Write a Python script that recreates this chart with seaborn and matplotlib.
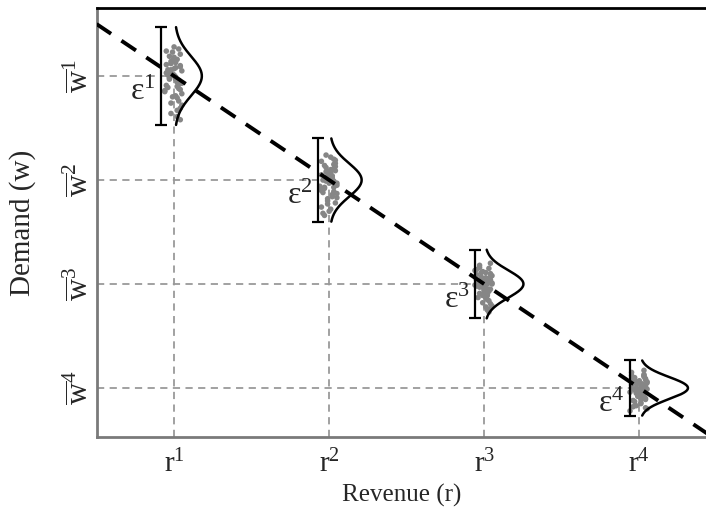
import matplotlib
matplotlib.use("Agg")
import matplotlib.pyplot as plt
import numpy as np
import pandas as pd
import seaborn as sns

# revenue levels (x) and mean demand levels (y)
revenue = [1, 2, 3, 4]
demand = [4, 3, 2, 1]
rev_labels = [r"$\mathrm{r}^1$", r"$\mathrm{r}^2$", r"$\mathrm{r}^3$", r"$\mathrm{r}^4$"]
dem_labels = [r"$\overline{\mathrm{w}}^1$", r"$\overline{\mathrm{w}}^2$",
              r"$\overline{\mathrm{w}}^3$", r"$\overline{\mathrm{w}}^4$"]
eps_labels = [r"$\mathrm{ε}^1$", r"$\mathrm{ε}^2$", r"$\mathrm{ε}^3$", r"$\mathrm{ε}^4$"]

# half width of the error interval at each level
err_half = [0.47, 0.40, 0.33, 0.265]
err_x = [0.916, 1.929, 2.942, 3.942]

# trend line
trend_x = [0.5, 4.45]
trend_y = [4.5, 0.55]

# observed points
x1 = [0.98, 1.03, 0.95, 1.01, 1.04, 0.97, 1.00, 1.05, 0.99, 1.02, 0.96, 1.03, 0.94, 1.01, 1.04, 0.98, 1.00, 1.05, 0.97, 1.02, 0.95, 1.01, 1.03, 0.99, 1.04, 0.96, 1.02, 0.98, 1.05, 1.00, 0.97, 1.03, 0.95, 1.01, 1.04, 0.99, 1.02, 0.94, 1.03, 1.00, 0.98, 1.05, 0.96, 1.01, 1.02, 0.97, 1.04, 0.99, 1.00, 1.03, 0.95, 1.02, 0.98, 1.04, 1.01]
y1 = [4.12, 3.95, 4.03, 3.81, 4.21, 3.98, 4.07, 3.72, 4.15, 3.90, 4.01, 4.26, 3.86, 3.97, 4.09, 3.64, 4.18, 3.93, 4.04, 3.79, 4.11, 3.99, 3.88, 4.23, 3.58, 4.06, 3.94, 4.14, 3.83, 4.00, 4.19, 3.76, 3.91, 4.08, 3.69, 4.02, 4.16, 3.85, 3.96, 4.28, 3.74, 4.05, 3.89, 4.13, 3.61, 3.97, 4.10, 3.80, 4.01, 3.92, 4.24, 3.67, 4.06, 3.87, 3.99]
x2 = [2.01, 2.04, 1.98, 2.02, 1.95, 2.03, 2.00, 1.99, 2.04, 1.97, 2.02, 2.01, 1.96, 2.05, 1.98, 2.00, 2.03, 1.94, 2.02, 1.99, 2.04, 2.01, 1.95, 2.03, 1.97, 2.00, 2.05, 1.98, 2.02, 1.96, 2.04, 1.99, 2.03, 2.01, 1.95, 2.02, 1.97, 2.05, 2.00, 1.98, 2.04, 2.01, 1.94, 2.03, 1.96, 2.02, 1.99, 2.05, 2.00, 1.97, 2.04, 2.01, 1.95, 2.03, 1.98]
y2 = [3.10, 2.96, 3.03, 2.84, 3.18, 2.99, 3.06, 2.77, 3.13, 2.92, 3.01, 3.22, 2.88, 2.97, 3.08, 2.70, 3.15, 2.94, 3.04, 2.82, 3.09, 3.00, 2.90, 3.20, 2.66, 3.05, 2.95, 3.12, 2.86, 3.00, 3.16, 2.80, 2.93, 3.07, 2.74, 3.02, 3.14, 2.87, 2.97, 3.24, 2.78, 3.04, 2.91, 3.11, 2.68, 2.98, 3.08, 2.83, 3.01, 2.93, 3.19, 2.72, 3.05, 2.89, 2.99]
x3 = [3.05, 2.99, 3.02, 2.96, 3.03, 2.94, 3.01, 3.04, 2.98, 3.00, 3.05, 2.97, 3.02, 2.95, 3.01, 3.03, 2.99, 3.04, 2.96, 3.02, 2.98, 3.05, 3.00, 2.97, 3.03, 2.95, 3.01, 3.04, 2.99, 3.02, 2.94, 3.03, 3.00, 2.98, 3.05, 2.96, 3.01, 3.02, 2.97, 3.04, 2.99, 3.00, 3.03, 2.95, 3.02, 2.98, 3.04, 3.01, 2.98, 3.03, 2.95, 3.01, 3.04, 2.97, 3.00]
y3 = [2.08, 1.97, 2.02, 1.87, 2.15, 1.99, 2.05, 1.81, 2.11, 1.94, 2.01, 2.18, 1.90, 1.98, 2.06, 1.76, 2.12, 1.95, 2.03, 1.85, 2.07, 2.00, 1.92, 2.16, 1.73, 2.04, 1.96, 2.10, 1.89, 2.00, 2.13, 1.84, 1.94, 2.06, 1.79, 2.02, 2.11, 1.89, 1.97, 2.20, 1.82, 2.03, 1.93, 2.09, 1.75, 1.98, 2.07, 1.86, 2.01, 1.95, 2.14, 1.78, 2.04, 1.91, 1.99]
x4 = [4.00, 3.97, 4.04, 4.01, 3.95, 4.03, 3.98, 4.01, 4.04, 3.98, 4.02, 3.95, 4.03, 4.00, 3.99, 4.04, 3.97, 4.02, 4.01, 3.96, 4.05, 3.98, 4.00, 4.03, 3.94, 4.02, 3.99, 4.04, 4.01, 3.95, 4.03, 3.97, 4.00, 4.05, 3.98, 4.02, 3.96, 4.04, 3.99, 4.03, 4.01, 3.95, 4.02, 3.97, 4.05, 4.00, 3.98, 4.04, 4.01, 3.94, 4.03, 3.96, 4.02, 3.99, 4.05]
y4 = [1.07, 0.98, 1.02, 0.89, 1.12, 0.99, 1.04, 0.85, 1.09, 0.95, 1.01, 1.15, 0.92, 0.98, 1.05, 0.81, 1.10, 0.96, 1.03, 0.88, 1.06, 1.00, 0.93, 1.13, 0.78, 1.03, 0.97, 1.08, 0.91, 1.00, 1.11, 0.87, 0.95, 1.05, 0.83, 1.02, 1.09, 0.90, 0.98, 1.17, 0.86, 1.03, 0.94, 1.07, 0.80, 0.98, 1.06, 0.89, 1.01, 0.96, 1.12, 0.82, 1.04, 0.92, 0.99]

pts = pd.DataFrame({"r": x1 + x2 + x3 + x4, "w": y1 + y2 + y3 + y4})

sns.set_theme(style="white")
plt.rcParams["font.family"] = ["Liberation Serif", "DejaVu Serif"]
plt.rcParams["mathtext.fontset"] = "custom"
plt.rcParams["mathtext.rm"] = "Liberation Serif"
plt.rcParams["mathtext.it"] = "Liberation Serif:italic"

fig = plt.figure(figsize=(7.06, 5.11), dpi=100)
ax = fig.add_axes([0.1374, 0.1448, 0.8626, 0.8395])
xmin, xmax = 0.503, 4.43
ymin, ymax = 0.529, 4.654

# guide lines
for r, w in zip(revenue, demand):
    ax.plot([xmin, r], [w, w], ls=(0, (4, 3)), color="#9a9a9a", lw=1.3, zorder=1)
    ax.plot([r, r], [ymin, w], ls=(0, (4, 3)), color="#9a9a9a", lw=1.3, zorder=1)

sns.lineplot(x=trend_x, y=trend_y, ax=ax, color="black", lw=2.8,
             linestyle=(0, (4.5, 3.2)), zorder=4)

sns.scatterplot(data=pts, x="r", y="w", ax=ax, color="#868686", s=16,
                edgecolor="none", zorder=2)

dens_scale = 0.082
for r, w, e, ex, lab in zip(revenue, demand, err_half, err_x, eps_labels):
    ax.errorbar([ex], [w], yerr=[e], color="black", lw=1.6, capsize=4.5,
                capthick=1.6, zorder=3)
    sd = e / 2.5
    yy = np.linspace(w - e, w + e, 200)
    pdf = np.exp(-0.5 * ((yy - w) / sd) ** 2) / (sd * np.sqrt(2 * np.pi))
    ax.plot(r + 0.005 + dens_scale * pdf, yy, color="black", lw=1.8, zorder=3)
    ax.text(ex - 0.035, w - 0.16, lab, ha="right", va="center", fontsize=23)

ax.set_xlim(xmin, xmax)
ax.set_ylim(ymin, ymax)
ax.set_xticks(revenue, rev_labels, fontsize=21)
ax.set_yticks(demand, dem_labels, fontsize=22, rotation=90, va="center")
ax.tick_params(axis="both", length=0)
ax.tick_params(axis="x", pad=9)
ax.tick_params(axis="y", pad=2)
ax.set_xlabel("Revenue (r)", fontsize=18)
ax.set_ylabel("Demand (w)", fontsize=21)
ax.xaxis.set_label_coords(0.5, -0.11)
ax.yaxis.set_label_coords(-0.1, 0.5)

ax.spines["right"].set_visible(False)
for s in ["left", "bottom"]:
    ax.spines[s].set_color("#7a7a7a")
    ax.spines[s].set_linewidth(2)
ax.spines["top"].set_color("black")
ax.spines["top"].set_linewidth(2)

fig.savefig("out.png", dpi=100)
